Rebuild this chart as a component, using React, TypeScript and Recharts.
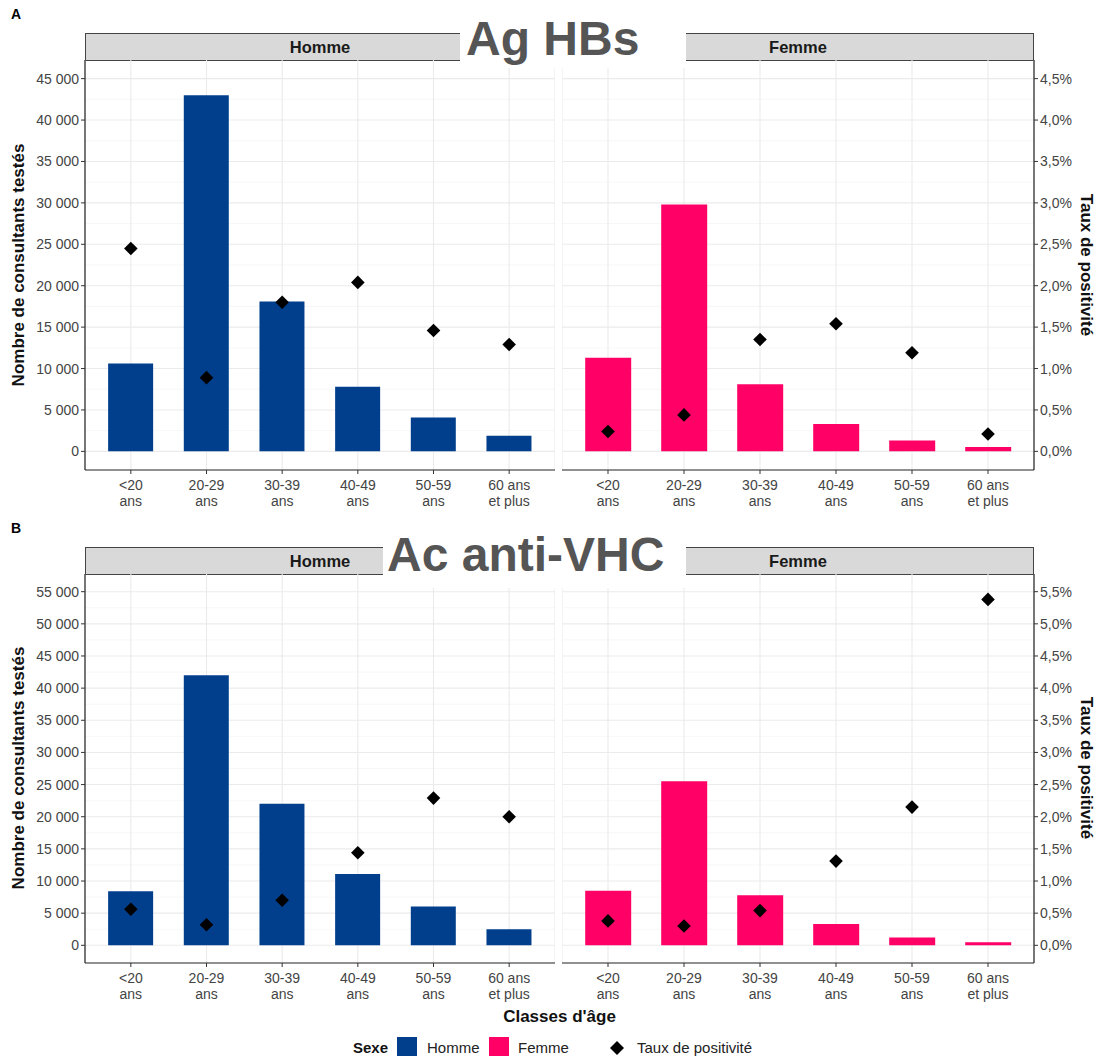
import React from "react"
import {
  ComposedChart,
  Bar,
  Line,
  XAxis,
  YAxis,
  CartesianGrid,
} from "recharts"

// age classes, split over two lines on the axis
const ages = ["<20 ans", "20-29 ans", "30-39 ans", "40-49 ans", "50-59 ans", "60 ans et plus"]
const ageLine1 = ["<20", "20-29", "30-39", "40-49", "50-59", "60 ans"]
const ageLine2 = ["ans", "ans", "ans", "ans", "ans", "et plus"]

// A - Ag HBs
const hbsHommeCount = [10600, 43000, 18100, 7800, 4100, 1900]
const hbsHommeRate = [2.45, 0.89, 1.8, 2.04, 1.46, 1.29]
const hbsFemmeCount = [11300, 29800, 8100, 3300, 1300, 530]
const hbsFemmeRate = [0.24, 0.44, 1.35, 1.54, 1.19, 0.21]

// B - Ac anti-VHC
const vhcHommeCount = [8400, 42000, 22000, 11100, 6050, 2500]
const vhcHommeRate = [0.56, 0.32, 0.7, 1.44, 2.29, 2.0]
const vhcFemmeCount = [8500, 25500, 7800, 3300, 1200, 470]
const vhcFemmeRate = [0.38, 0.3, 0.54, 1.31, 2.15, 5.38]

const hbsCountTicks = [0, 5000, 10000, 15000, 20000, 25000, 30000, 35000, 40000, 45000]
const hbsRateTicks = [0, 0.5, 1, 1.5, 2, 2.5, 3, 3.5, 4, 4.5]
const vhcCountTicks = [0, 5000, 10000, 15000, 20000, 25000, 30000, 35000, 40000, 45000, 50000, 55000]
const vhcRateTicks = [0, 0.5, 1, 1.5, 2, 2.5, 3, 3.5, 4, 4.5, 5, 5.5]

const BLUE = "#013F8C"
const PINK = "#FF0066"
const FONT = "'Liberation Sans', Arial, sans-serif"

const fmtCount = (v: number) => String(v).replace(/\B(?=(\d{3})+(?!\d))/g, " ")
const fmtRate = (v: number) => v.toFixed(1).replace(".", ",") + "%"

function AgeTick(props: any) {
  const { x, y, index } = props
  return (
    <text x={x} y={y} textAnchor="middle" fill="#444" fontSize={14} fontFamily={FONT}>
      <tspan x={x} dy={14}>{ageLine1[index]}</tspan>
      <tspan x={x} dy={16}>{ageLine2[index]}</tspan>
    </text>
  )
}

function diamond(props: any) {
  const { cx, cy, index } = props
  const r = 6.8
  if (cx == null || cy == null) return <g key={`d${index}`} />
  return (
    <path
      key={`d${index}`}
      d={`M${cx},${cy - r}L${cx + r},${cy}L${cx},${cy + r}L${cx - r},${cy}Z`}
      fill="#000"
    />
  )
}

type PanelProps = {
  left: number
  top: number
  width: number
  height: number
  side: "left" | "right"
  counts: number[]
  rates: number[]
  color: string
  countTicks: number[]
  rateTicks: number[]
}

function Panel(p: PanelProps) {
  const data = ages.map((a, i) => ({ age: a, count: p.counts[i], rate: p.rates[i] }))
  const cMax = p.countTicks[p.countTicks.length - 1]
  const rMax = p.rateTicks[p.rateTicks.length - 1]
  const minor = p.countTicks.slice(1).map((t, i) => (t + p.countTicks[i]) / 2)
  return (
    <div style={{ position: "absolute", left: p.left, top: p.top }}>
      <ComposedChart
        width={p.width}
        height={p.height}
        data={data}
        margin={{ top: 0, right: 0, bottom: 0, left: 0 }}
        barCategoryGap="20%"
      >
        <CartesianGrid yAxisId="count" horizontalValues={minor} vertical={false} stroke="#F3F3F3" strokeWidth={0.7} />
        <CartesianGrid yAxisId="count" horizontalValues={p.countTicks} stroke="#EBEBEB" strokeWidth={1.1} />
        <XAxis
          dataKey="age"
          height={48}
          interval={0}
          padding={{ left: 8, right: 8 }}
          tick={<AgeTick />}
          tickLine={{ stroke: "#333" }}
          tickSize={4}
          axisLine={{ stroke: "#222", strokeWidth: 1.2 }}
        />
        <YAxis
          yAxisId="count"
          orientation="left"
          type="number"
          hide={p.side !== "left"}
          width={85}
          domain={[-cMax * 0.05, cMax * 1.05]}
          allowDataOverflow
          ticks={p.countTicks}
          tickFormatter={fmtCount}
          tick={{ fill: "#444", fontSize: 14, fontFamily: FONT }}
          tickLine={{ stroke: "#333" }}
          tickSize={4}
          axisLine={{ stroke: "#222", strokeWidth: 1.2 }}
        />
        <YAxis
          yAxisId="rate"
          orientation="right"
          type="number"
          hide={p.side !== "right"}
          width={60}
          domain={[-rMax * 0.05, rMax * 1.05]}
          allowDataOverflow
          ticks={p.rateTicks}
          tickFormatter={fmtRate}
          tick={{ fill: "#444", fontSize: 14, fontFamily: FONT }}
          tickLine={{ stroke: "#333" }}
          tickSize={4}
          axisLine={{ stroke: "#222", strokeWidth: 1.2 }}
        />
        <Bar yAxisId="count" dataKey="count" fill={p.color} isAnimationActive={false} />
        <Line
          yAxisId="rate"
          dataKey="rate"
          stroke="none"
          dot={diamond}
          activeDot={false}
          isAnimationActive={false}
        />
      </ComposedChart>
    </div>
  )
}

function Strip({ left, top, width, label }: { left: number; top: number; width: number; label: string }) {
  return (
    <div
      style={{
        position: "absolute",
        left,
        top,
        width,
        height: 28,
        boxSizing: "border-box",
        background: "#D9D9D9",
        border: "1px solid #444",
        display: "flex",
        alignItems: "center",
        justifyContent: "center",
        fontWeight: "bold",
        fontSize: 16.5,
        color: "#1A1A1A",
      }}
    >
      {label}
    </div>
  )
}

function BigTitle({ left, top, width, height, pad, text }: { left: number; top: number; width: number; height: number; pad: number; text: string }) {
  return (
    <div
      style={{
        position: "absolute",
        left,
        top,
        width,
        height,
        boxSizing: "border-box",
        paddingLeft: pad,
        background: "#fff",
        display: "flex",
        alignItems: "center",
        justifyContent: "flex-start",
        fontWeight: "bold",
        fontSize: 48,
        color: "#555",
        whiteSpace: "nowrap",
        zIndex: 5,
      }}
    >
      {text}
    </div>
  )
}

function VTitle({ x, y, text, rot }: { x: number; y: number; text: string; rot: number }) {
  return (
    <div
      style={{
        position: "absolute",
        left: x,
        top: y,
        transform: `translate(-50%, -50%) rotate(${rot}deg)`,
        whiteSpace: "nowrap",
        fontWeight: "bold",
        fontSize: 17,
        color: "#111",
      }}
    >
      {text}
    </div>
  )
}

export default function App() {
  const rowA = 60
  const rowB = 574
  return (
    <div
      style={{
        position: "absolute",
        left: 0,
        top: 0,
        width: 1097,
        height: 1056,
        background: "#fff",
        fontFamily: FONT,
        overflow: "hidden",
      }}
    >
      <div style={{ position: "absolute", left: 11, top: 6, fontWeight: "bold", fontSize: 14 }}>A</div>
      <div style={{ position: "absolute", left: 11, top: 520, fontWeight: "bold", fontSize: 14 }}>B</div>

      <Strip left={85} top={33} width={470} label="Homme" />
      <Strip left={562} top={33} width={472} label="Femme" />
      <Strip left={85} top={547} width={470} label="Homme" />
      <Strip left={562} top={547} width={472} label="Femme" />

      <Panel left={0} top={rowA} width={555} height={458} side="left" counts={hbsHommeCount} rates={hbsHommeRate} color={BLUE} countTicks={hbsCountTicks} rateTicks={hbsRateTicks} />
      <Panel left={562} top={rowA} width={532} height={458} side="right" counts={hbsFemmeCount} rates={hbsFemmeRate} color={PINK} countTicks={hbsCountTicks} rateTicks={hbsRateTicks} />
      <Panel left={0} top={rowB} width={555} height={437} side="left" counts={vhcHommeCount} rates={vhcHommeRate} color={BLUE} countTicks={vhcCountTicks} rateTicks={vhcRateTicks} />
      <Panel left={562} top={rowB} width={532} height={437} side="right" counts={vhcFemmeCount} rates={vhcFemmeRate} color={PINK} countTicks={vhcCountTicks} rateTicks={vhcRateTicks} />

      <BigTitle left={460} top={8} width={226} height={60} pad={6} text="Ag HBs" />
      <BigTitle left={383} top={521} width={303} height={67} pad={4} text="Ac anti-VHC" />

      <VTitle x={19} y={265} rot={-90} text="Nombre de consultants testés" />
      <VTitle x={19} y={768} rot={-90} text="Nombre de consultants testés" />
      <VTitle x={1086} y={265} rot={90} text="Taux de positivité" />
      <VTitle x={1086} y={768} rot={90} text="Taux de positivité" />

      <div style={{ position: "absolute", left: 85, width: 949, top: 1007, textAlign: "center", fontWeight: "bold", fontSize: 17, color: "#111" }}>
        Classes d'âge
      </div>

      <div style={{ position: "absolute", left: 353, top: 1039, fontWeight: "bold", fontSize: 15, color: "#111" }}>Sexe</div>
      <div style={{ position: "absolute", left: 397, top: 1037, width: 20, height: 20, background: BLUE }} />
      <div style={{ position: "absolute", left: 427, top: 1039, fontSize: 15, color: "#222" }}>Homme</div>
      <div style={{ position: "absolute", left: 489, top: 1037, width: 20, height: 20, background: PINK }} />
      <div style={{ position: "absolute", left: 518, top: 1039, fontSize: 15, color: "#222" }}>Femme</div>
      <svg style={{ position: "absolute", left: 608, top: 1039 }} width={18} height={18}>
        <path d="M9,2L16,9L9,16L2,9Z" fill="#000" />
      </svg>
      <div style={{ position: "absolute", left: 637, top: 1039, fontSize: 15, color: "#222" }}>Taux de positivité</div>
    </div>
  )
}
